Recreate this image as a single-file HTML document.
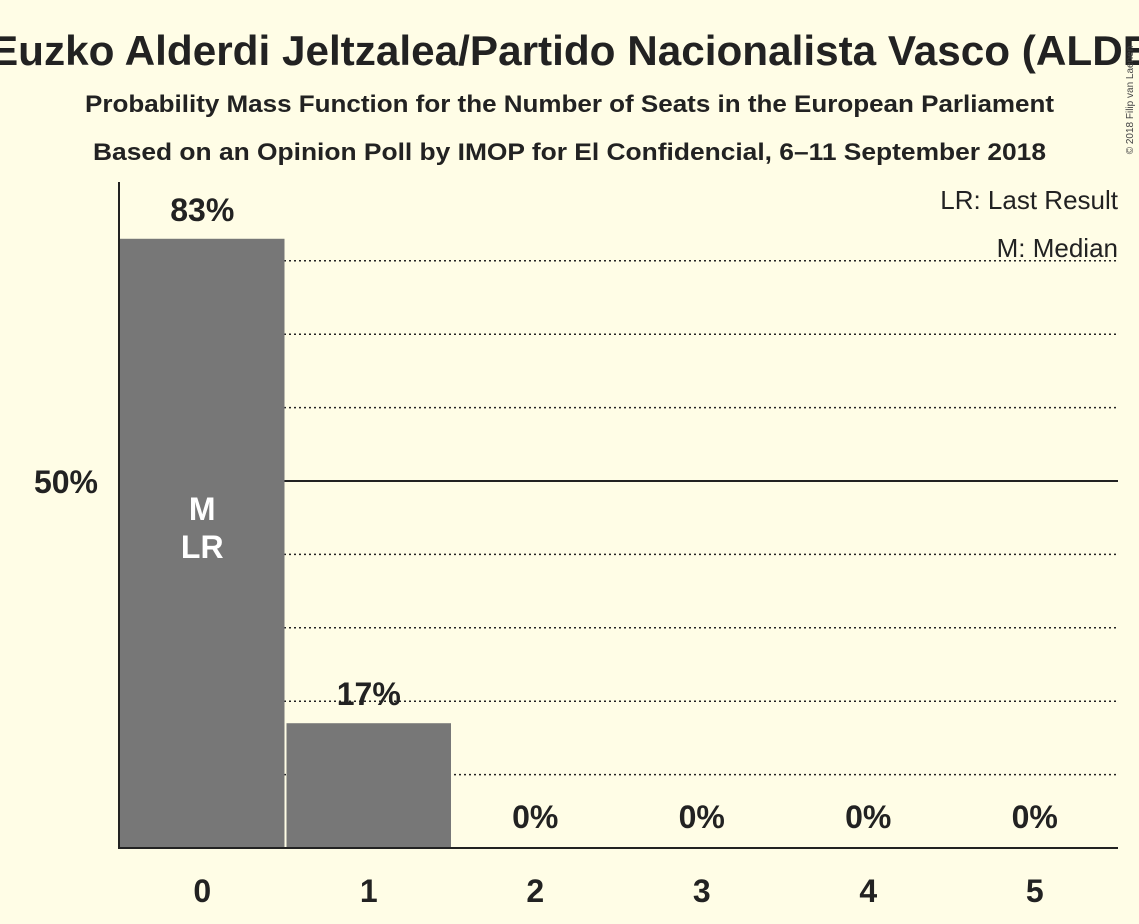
<!DOCTYPE html>
<html><head><meta charset="utf-8"><style>
body{margin:0;background:#fffde6;}
svg{display:block;font-family:"Liberation Sans",sans-serif;}
</style></head><body>
<svg id="c" width="1139" height="924">
<rect width="1139" height="924" fill="#fffde6"/>
<text x="-10" y="65" font-size="42" font-weight="bold" fill="#222" textLength="1175" lengthAdjust="spacingAndGlyphs">Euzko Alderdi Jeltzalea/Partido Nacionalista Vasco (ALDE)</text>
<text x="85" y="112" font-size="24" font-weight="bold" fill="#222" textLength="969" lengthAdjust="spacingAndGlyphs">Probability Mass Function for the Number of Seats in the European Parliament</text>
<text x="93" y="160" font-size="24" font-weight="bold" fill="#222" textLength="953" lengthAdjust="spacingAndGlyphs">Based on an Opinion Poll by IMOP for El Confidencial, 6–11 September 2018</text>
<text x="1133" y="100" font-size="10" fill="#444" transform="rotate(-90 1133 100)" text-anchor="middle">© 2018 Filip van Laenen</text>
<text x="1118" y="209" text-anchor="end" font-size="26" fill="#222">LR: Last Result</text>
<text x="1118" y="257" text-anchor="end" font-size="26" fill="#222">M: Median</text>
<g id="grid"></g><g id="bars"></g><g id="labels"></g>
<line x1="119" y1="182" x2="119" y2="848" stroke="#222" stroke-width="2"/>
<line x1="118" y1="848" x2="1118" y2="848" stroke="#222" stroke-width="2"/>
<text x="98" y="493" text-anchor="end" font-size="32" font-weight="bold" fill="#222">50%</text>
</svg>
<script>
const categories=[0,1,2,3,4,5];
const probs=[83,17,0,0,0,0];
const valueLabels=["83%","17%","0%","0%","0%","0%"];
const gridTicks=[10,20,30,40,50,60,70,80];
const medianIdx=0, lastResultIdx=0;
const ns="http://www.w3.org/2000/svg";
const x0=119,x1=1118,yb=848,pxPer=7.34;
const bw=(x1-x0)/categories.length;
const y=v=>yb-v*pxPer;
const xs=i=>x0+i*bw;
function mk(t,a,p){const e=document.createElementNS(ns,t);for(const k in a)e.setAttribute(k,a[k]);p.appendChild(e);return e;}
const G=document.getElementById('grid'),B=document.getElementById('bars'),L=document.getElementById('labels');
gridTicks.forEach(t=>{
 const l=mk('line',{x1:x0,x2:x1,y1:y(t),y2:y(t),stroke:'#222','stroke-width':t==50?2:1.5,'stroke-dasharray':t==50?'':'2,3'},G);
 
 
});
categories.forEach((c,i)=>{
 const r=mk('rect',{x:xs(i)+1,y:y(probs[i]),width:bw-2,height:probs[i]*pxPer,fill:'#777'},B);
 
 
 const cx=xs(i)+bw/2;
 const vl=mk('text',{x:cx,y:(probs[i]>1?y(probs[i])-18:yb-20),'text-anchor':'middle','font-size':32,'font-weight':'bold',fill:'#222'},L);
 vl.textContent=valueLabels[i];
 
 
 const xl=mk('text',{x:cx,y:902,'text-anchor':'middle','font-size':32,'font-weight':'bold',fill:'#222'},L);
 xl.textContent=c;
 
 
});
const mcx=xs(medianIdx)+bw/2;
const m=mk('text',{x:mcx,y:520,'text-anchor':'middle','font-size':32,'font-weight':'bold',fill:'#fff'},L);
m.textContent='M';


const lr=mk('text',{x:xs(lastResultIdx)+bw/2,y:558,'text-anchor':'middle','font-size':32,'font-weight':'bold',fill:'#fff'},L);
lr.textContent='LR';


</script>
</body></html>
